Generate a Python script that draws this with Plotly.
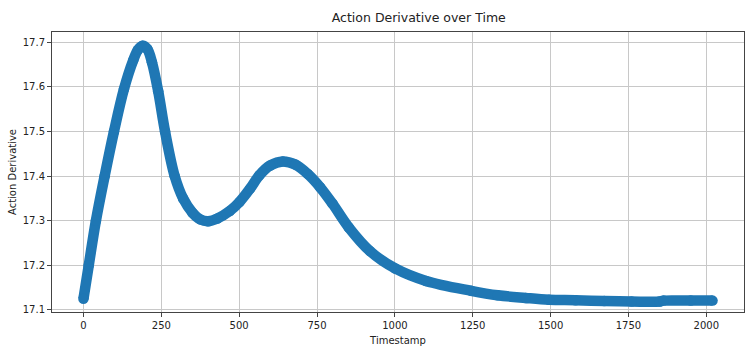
import plotly.graph_objects as go

timestamps = [0, 17, 40, 68, 98, 130, 160, 175, 190, 205, 220, 240, 262, 293, 320, 350, 375, 400,
              430, 470, 501, 535, 565, 600, 640, 680, 720, 760, 800, 852, 920, 1001, 1100, 1245,
              1330, 1420, 1495, 1580, 1672, 1760, 1850, 1863, 1950, 2020]
action_derivative = [17.125, 17.20, 17.30, 17.40, 17.50, 17.595, 17.66, 17.683, 17.692, 17.685,
                     17.655, 17.59, 17.50, 17.40, 17.35, 17.318, 17.303, 17.299,
                     17.305, 17.322, 17.342, 17.372, 17.402, 17.424, 17.433, 17.426, 17.405,
                     17.375, 17.338, 17.285, 17.232, 17.193, 17.165, 17.143,
                     17.133, 17.127, 17.123, 17.122, 17.120, 17.119, 17.119, 17.121, 17.121, 17.121]

x_ticks = [0, 250, 500, 750, 1000, 1250, 1500, 1750, 2000]
y_ticks = [17.1, 17.2, 17.3, 17.4, 17.5, 17.6, 17.7]
y_tick_text = ["17.1", "17.2", "17.3", "17.4", "17.5", "17.6", "17.7"]

blue = "#1f77b4"

fig = go.Figure()
fig.add_trace(go.Scatter(
    x=timestamps, y=action_derivative,
    mode="lines+markers",
    line=dict(color=blue, width=10.5, shape="spline", smoothing=1.0),
    marker=dict(color=blue, size=10.5),
    showlegend=False,
))

axis_common = dict(
    showline=True, linecolor="#444444", linewidth=1, mirror=True,
    showgrid=True, gridcolor="#c8c8c8", gridwidth=1,
    ticks="outside", ticklen=4, tickcolor="#444444", tickwidth=1,
    zeroline=False, automargin=False,
    tickfont=dict(family="DejaVu Sans", size=10, color="#222222"),
)

fig.update_layout(
    width=749, height=350,
    margin=dict(l=52, r=5, t=32, b=38),
    paper_bgcolor="white", plot_bgcolor="white",
    title=dict(text="Action Derivative over Time", x=0.530, xanchor="center",
               xref="paper", y=0.949, yref="container", yanchor="middle",
               font=dict(family="DejaVu Sans", size=12.5, color="#222222")),
    xaxis=dict(range=[-101, 2121], tickvals=x_ticks,
               title=dict(text="Timestamp", standoff=6,
                          font=dict(family="DejaVu Sans", size=10, color="#222222")),
               **axis_common),
    yaxis=dict(range=[17.0955, 17.723], tickvals=y_ticks, ticktext=y_tick_text,
               title=dict(text="Action Derivative", standoff=4,
                          font=dict(family="DejaVu Sans", size=10, color="#222222")),
               **axis_common),
)

fig.write_html("out.html", config={"displayModeBar": False},
               post_script="document.body.style.margin='0px';document.body.style.overflow='hidden';")
